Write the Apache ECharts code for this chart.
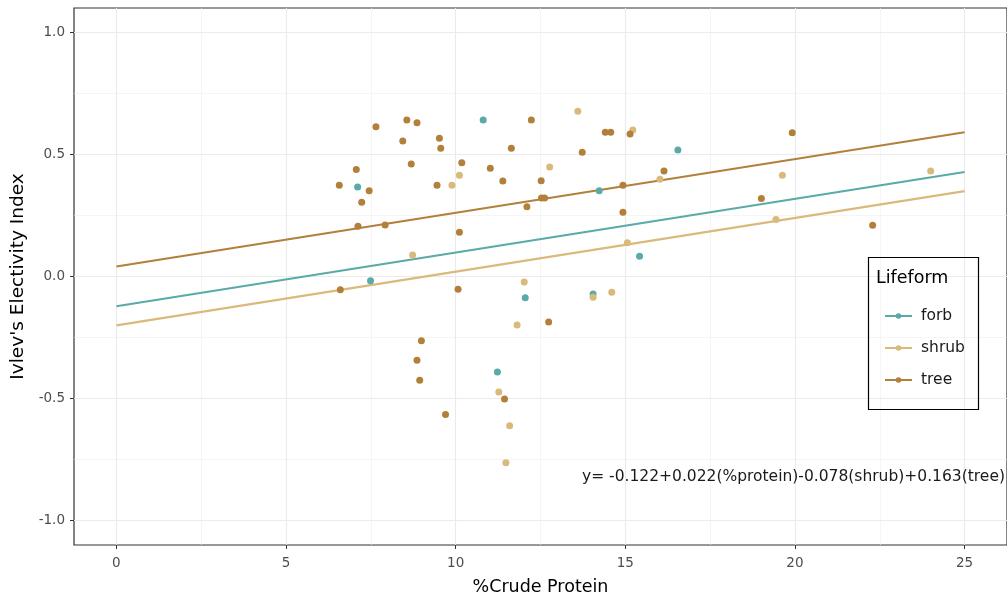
<!DOCTYPE html>
<html><head><meta charset="utf-8">
<script src="https://cdn.jsdelivr.net/npm/echarts@6/dist/echarts.min.js"></script>
<style>html,body{margin:0;padding:0;background:#fff}#c{width:1007px;height:601px}</style>
</head><body><div id="c"></div>
<script>
const xTicks = [0, 5, 10, 15, 20, 25];
const xMinor = [2.5, 7.5, 12.5, 17.5, 22.5];
const yTicks = [-1, -0.5, 0, 0.5, 1];
const yMinor = [-0.75, -0.25, 0.25, 0.75];

const forbX = [10.81, 7.11, 16.55, 14.23, 15.42, 7.49, 12.05, 14.05, 11.23];
const forbY = [0.641, 0.367, 0.518, 0.351, 0.083, -0.017, -0.087, -0.072, -0.391];

const shrubX = [10.11, 9.89, 13.6, 12.77, 15.22, 15.06, 16.02, 19.63, 19.44, 24.0, 8.73, 12.02, 11.81, 14.05, 14.6, 11.27, 11.59, 11.48];
const shrubY = [0.415, 0.374, 0.677, 0.449, 0.6, 0.138, 0.398, 0.415, 0.234, 0.432, 0.088, -0.023, -0.199, -0.085, -0.065, -0.473, -0.611, -0.763];

const treeX = [7.65, 8.56, 8.86, 8.44, 9.52, 9.56, 7.07, 8.69, 10.18, 11.02, 6.57, 7.45, 7.23, 9.45, 7.12, 7.92, 10.11, 12.23, 11.64, 11.39, 12.52, 13.73, 14.41, 14.57, 15.14, 12.1, 12.53, 12.62, 14.93, 14.93, 16.14, 19.92, 19.01, 22.29, 6.6, 10.07, 8.99, 8.86, 8.94, 9.7, 12.74, 11.44];
const treeY = [0.614, 0.641, 0.63, 0.555, 0.566, 0.525, 0.438, 0.461, 0.466, 0.443, 0.374, 0.351, 0.304, 0.374, 0.206, 0.211, 0.181, 0.641, 0.525, 0.391, 0.392, 0.509, 0.591, 0.591, 0.584, 0.286, 0.322, 0.322, 0.374, 0.263, 0.432, 0.589, 0.32, 0.21, -0.054, -0.052, -0.263, -0.343, -0.425, -0.565, -0.186, -0.502];

const fitX = [0, 25];
const forbFit = [-0.122, 0.428];
const shrubFit = [-0.200, 0.350];
const treeFit = [0.041, 0.591];

const groups = ['forb', 'shrub', 'tree'];
const colors = {forb: '#5AAAA8', shrub: '#D9BA7C', tree: '#B3803C'};
const pts = {forb: [forbX, forbY], shrub: [shrubX, shrubY], tree: [treeX, treeY]};
const fits = {forb: forbFit, shrub: shrubFit, tree: treeFit};
const equation = 'y= -0.122+0.022(%protein)-0.078(shrub)+0.163(tree)';

const FONT = 'DejaVu Sans';
const zip = (a, b) => a.map((v, i) => [v, b[i]]);

const series = [];
groups.forEach(g => {
  series.push({
    name: g, type: 'line', data: zip(fitX, fits[g]), showSymbol: false, symbol: 'circle',
    lineStyle: {color: colors[g], width: 2.2}, itemStyle: {color: colors[g]}, silent: true, z: 2
  });
});
groups.forEach(g => {
  series.push({
    name: g, type: 'scatter', data: zip(pts[g][0], pts[g][1]), symbol: 'circle', symbolSize: 7,
    itemStyle: {color: colors[g], opacity: 1}, z: 3
  });
});

const grid = {left: 74, top: 8, right: -8, bottom: 56, show: true, borderColor: '#333', borderWidth: 1.2, backgroundColor: 'transparent'};
const major = {show: true, lineStyle: {color: '#EBEBEB', width: 1.1}};
const minor = {show: true, lineStyle: {color: '#EFEFEF', width: 0.6}};

const option = {
  animation: false,
  backgroundColor: '#fff',
  grid: grid,
  xAxis: [
    {type: 'value', min: -1.25, max: 26.25, axisLine: {show: false, onZero: false},
     axisTick: {show: true, length: 4, lineStyle: {color: '#333', width: 1}, customValues: xTicks},
     axisLabel: {customValues: xTicks, color: '#4D4D4D', fontFamily: FONT, fontSize: 13.5, margin: 11},
     splitLine: major,
     name: '%Crude Protein', nameLocation: 'middle', nameGap: 33,
     nameTextStyle: {color: '#000', fontFamily: FONT, fontSize: 17.5}},
    {type: 'value', min: -1.25, max: 26.25, axisLine: {show: false, onZero: false},
     axisTick: {show: false, customValues: xMinor}, axisLabel: {show: false, customValues: xMinor},
     splitLine: minor}
  ],
  yAxis: [
    {type: 'value', min: -1.1, max: 1.1, axisLine: {show: false, onZero: false},
     axisTick: {show: true, length: 4, lineStyle: {color: '#333', width: 1}, customValues: yTicks},
     axisLabel: {customValues: yTicks, color: '#4D4D4D', fontFamily: FONT, fontSize: 13.5, margin: 9,
       formatter: v => v.toFixed(1)},
     splitLine: major,
     name: "Ivlev's Electivity Index", nameLocation: 'middle', nameGap: 38,
     nameTextStyle: {color: '#000', fontFamily: FONT, fontSize: 18.5}},
    {type: 'value', min: -1.1, max: 1.1, axisLine: {show: false, onZero: false},
     axisTick: {show: false, customValues: yMinor}, axisLabel: {show: false, customValues: yMinor},
     splitLine: minor}
  ],
  legend: {
    data: groups, orient: 'vertical', left: 879, top: 303, itemWidth: 27, itemHeight: 7, itemGap: 16,
    textStyle: {color: '#1A1A1A', fontFamily: FONT, fontSize: 15.5, padding: [0, 0, 0, 4]},
    selectedMode: false
  },
  graphic: [
    {type: 'rect', left: 866, top: 255, shape: {width: 110, height: 152},
     style: {fill: 'none', stroke: '#000', lineWidth: 1.2}, z: 10},
    {type: 'text', left: 876, top: 269, style: {text: 'Lifeform', fill: '#000', font: '17.5px "DejaVu Sans"'}, z: 10},
    {type: 'text', left: 582, top: 469, style: {text: equation, fill: '#1A1A1A', font: '15.5px "DejaVu Sans"'}, z: 10}
  ],
  series: series
};

const chart = echarts.init(document.getElementById('c'), null, {renderer: 'canvas'});
chart.setOption(option);
</script></body></html>
